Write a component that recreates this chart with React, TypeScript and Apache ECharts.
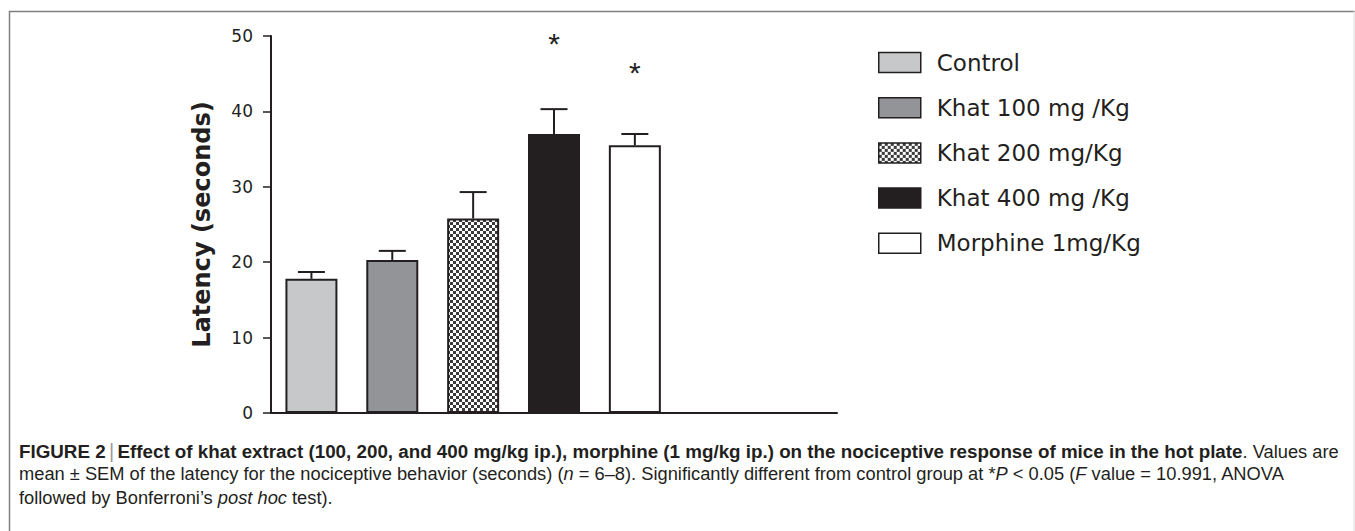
import React, { useEffect, useRef } from "react";
import * as echarts from "echarts";

const groups = ["Control", "Khat 100 mg /Kg", "Khat 200 mg/Kg", "Khat 400 mg /Kg", "Morphine 1mg/Kg"];
const slots = ["Control", "Khat 100 mg /Kg", "Khat 200 mg/Kg", "Khat 400 mg /Kg", "Morphine 1mg/Kg", "", " "];
const means = [17.8, 20.3, 25.8, 37.0, 35.5];
const sems = [0.9, 1.2, 3.5, 3.3, 1.5];
const marks = ["", "", "", "*", "*"];
const markLevels = [0, 0, 0, 49.0, 45.1];
const yMin = 0;
const yMax = 50;
const yStep = 10;

const captionLine1 =
  "{b|FIGURE 2} {bar||} {b|Effect of khat extract (100, 200, and 400 mg/kg ip.), morphine (1 mg/kg ip.) on the nociceptive response of mice in the hot plate}{r|. Values are}";
const captionLine2 =
  "{r|mean ± SEM of the latency for the nociceptive behavior (seconds) (}{i|n}{r| = 6–8). Significantly different from control group at *}{i|P}{r| < 0.05 (}{i|F}{r| value = 10.991, ANOVA}";
const captionLine3 = "{r|followed by Bonferroni’s }{i|post hoc}{r| test).}";

const INK = "#231f20";

function makeChecker(): HTMLCanvasElement {
  const c = document.createElement("canvas");
  c.width = 6;
  c.height = 6;
  const ctx = c.getContext("2d")!;
  ctx.fillStyle = "#ffffff";
  ctx.fillRect(0, 0, 6, 6);
  ctx.fillStyle = "#3a3a3a";
  ctx.fillRect(0, 0, 3, 3);
  ctx.fillRect(3, 3, 3, 3);
  return c;
}

export default function App() {
  const ref = useRef<HTMLDivElement>(null);
  useEffect(() => {
    if (!ref.current) return;
    const chart = echarts.init(ref.current, undefined, { renderer: "svg" });
    const checker = makeChecker();
    const fills: any[] = [
      "#c6c8ca",
      "#929497",
      { image: checker, repeat: "repeat" },
      INK,
      "#ffffff",
    ];
    const barSeries = groups.map((g, i) => ({
      type: "bar",
      name: g,
      stack: "all",
      barWidth: 52,
      data: slots.map((_, j) => (j === i ? means[i] : "-")),
      itemStyle: { color: fills[i], borderColor: INK, borderWidth: 2 },
    }));
    const rich = {
      b: { fontFamily: "Liberation Sans", fontSize: 18.8, fontWeight: "bold", fill: INK },
      r: { fontFamily: "Liberation Sans", fontSize: 18.3, fill: INK },
      i: { fontFamily: "Liberation Sans", fontSize: 18.3, fontStyle: "italic", fill: INK },
      bar: { fontFamily: "Liberation Sans", fontSize: 20, fill: "#9a9a9a" },
    };
    const option: any = {
      animation: false,
      backgroundColor: "#ffffff",
      grid: { left: 271, right: 518, top: 36, bottom: 118 },
      legend: {
        data: groups,
        orient: "vertical",
        left: 873,
        top: 46,
        itemWidth: 42,
        itemHeight: 20,
        itemGap: 22.2,
        icon: "rect",
        selectedMode: false,
        itemStyle: { borderColor: INK, borderWidth: 1.5 },
        textStyle: {
          fontFamily: "DejaVu Sans",
          fontSize: 23,
          lineHeight: 20,
          color: INK,
          padding: [0, 0, 0, 11],
        },
      },
      xAxis: {
        type: "category",
        data: slots,
        axisLine: { show: true, lineStyle: { color: INK, width: 2 } },
        axisTick: { show: false },
        axisLabel: { show: false },
      },
      yAxis: {
        type: "value",
        min: yMin,
        max: yMax,
        interval: yStep,
        name: "Latency (seconds)",
        nameLocation: "middle",
        nameGap: 57,
        nameTextStyle: { fontFamily: "DejaVu Sans", fontWeight: "bold", fontSize: 24, color: INK },
        axisLine: { show: true, lineStyle: { color: INK, width: 2 } },
        axisTick: { show: true, length: 8, lineStyle: { color: INK, width: 1.5 } },
        splitLine: { show: false },
        axisLabel: { margin: 18, fontFamily: "DejaVu Sans", fontSize: 17, color: INK },
      },
      series: [
        ...barSeries,
        {
          type: "custom",
          name: "sem",
          z: 5,
          data: means.map((m, i) => [i, m, m + sems[i], markLevels[i], marks[i]]),
          encode: { x: 0, y: [1, 2] },
          renderItem: (params: any, api: any) => {
            const x = api.value(0);
            const base = api.coord([x, api.value(1)]);
            const top = api.coord([x, api.value(2)]);
            const half = 13.5;
            const children: any[] = [
              { type: "line", shape: { x1: base[0], y1: base[1], x2: top[0], y2: top[1] }, style: { stroke: INK, lineWidth: 2 } },
              { type: "line", shape: { x1: top[0] - half, y1: top[1], x2: top[0] + half, y2: top[1] }, style: { stroke: INK, lineWidth: 2 } },
            ];
            const mk = marks[params.dataIndex];
            if (mk) {
              const p = api.coord([x, api.value(3)]);
              children.push({
                type: "text",
                x: p[0],
                y: p[1],
                style: { text: mk, fontFamily: "Liberation Sans", fontSize: 30, fill: INK, align: "center", verticalAlign: "middle" },
              });
            }
            return { type: "group", children };
          },
        },
      ],
      graphic: [
        { type: "line", shape: { x1: 9, y1: 11.5, x2: 1355, y2: 11.5 }, style: { stroke: "#7f7f7f", lineWidth: 1.5 } },
        { type: "line", shape: { x1: 9.5, y1: 11, x2: 9.5, y2: 531 }, style: { stroke: "#7f7f7f", lineWidth: 1.5 } },
        { type: "line", shape: { x1: 1354, y1: 11, x2: 1354, y2: 531 }, style: { stroke: "#e0e0e0", lineWidth: 1 } },
        { type: "text", left: 19, top: 441, style: { text: captionLine1, rich } },
        { type: "text", left: 19, top: 464, style: { text: captionLine2, rich } },
        { type: "text", left: 19, top: 488, style: { text: captionLine3, rich } },
      ],
    };
    chart.setOption(option);
    return () => chart.dispose();
  }, []);
  return (
    <div
      ref={ref}
      style={{ position: "absolute", left: 0, top: 0, width: 1355, height: 531, background: "#fff" }}
    />
  );
}
